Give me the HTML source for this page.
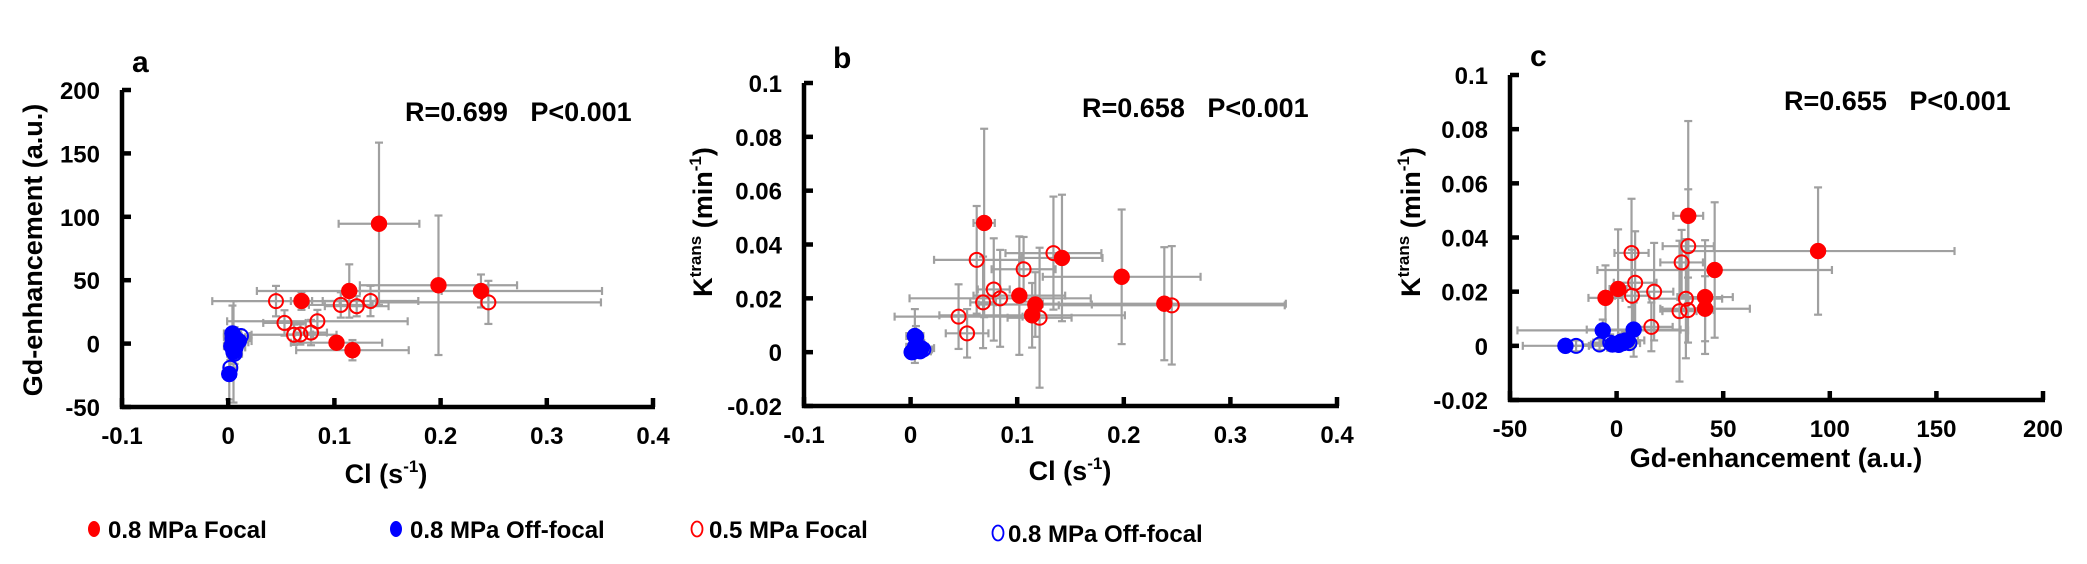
<!DOCTYPE html>
<html><head><meta charset="utf-8"><style>
html,body{margin:0;padding:0;background:#fff;}
svg{display:block;font-family:"Liberation Sans",Arial,sans-serif;font-weight:bold;}
</style></head><body>
<svg id="fig" width="2087" height="564" viewBox="0 0 2087 564" xmlns="http://www.w3.org/2000/svg"></svg>
<script>
// ---- data: each point has CI (s^-1), Gd-enhancement (a.u.), Ktrans (min^-1) with errors ----
const redFilledCI   = [0.142, 0.198, 0.238, 0.114, 0.069, 0.102, 0.117];
const redFilledCIe  = [0.038, 0.074, 0.114, 0.087, 0.010, 0.043, 0.053];
const redFilledGd   = [94.5, 46, 41.5, 41.5, 33.6, 0.7, -5.2];
const redFilledGde  = [64, 55, 13, 21, 7, 4, 8];
const redFilledK    = [0.035, 0.028, 0.018, 0.0137, 0.048, 0.021, 0.0177];
const redFilledKe   = [0.0235, 0.025, 0.021, 0.012, 0.035, 0.022, 0.012];

const redOpenCI  = [0.062, 0.106, 0.078, 0.084, 0.068, 0.045, 0.053, 0.134, 0.245, 0.121];
const redOpenCIe = [0.040, 0.030, 0.015, 0.085, 0.012, 0.060, 0.020, 0.045, 0.106, 0.030];
const redOpenGd  = [7, 30.5, 8.7, 17.6, 7.2, 33.5, 16.3, 33.6, 32.5, 29.5];
const redOpenGde = [8, 10, 10, 9, 8, 12, 10, 12, 17, 8];
const redOpenK   = [0.0343, 0.0308, 0.0233, 0.020, 0.0185, 0.0132, 0.007, 0.0368, 0.0174, 0.0128];
const redOpenKe  = [0.020, 0.012, 0.019, 0.018, 0.017, 0.012, 0.009, 0.021, 0.022, 0.026];

const blueFilledCI  = [0.001, 0.004, 0.006, 0.008, 0.003, 0.010, 0.005];
const blueFilledCIe = [0.006, 0.008, 0.010, 0.008, 0.007, 0.012, 0.006];
const blueFilledGd  = [-24, 8, 5, 3, -2, 2, -6.5];
const blueFilledGde = [20, 22, 8, 6, 10, 6, 40];
const blueFilledK   = [0, 0.006, 0.002, 0.001, 0.0005, 0.0015, 0.0057];
const blueFilledKe  = [0.002, 0.010, 0.003, 0.002, 0.002, 0.003, 0.004];

const blueOpenCI  = [0.002, 0.005, 0.007, 0.009, 0.004, 0.012, 0.006];
const blueOpenCIe = [0.006, 0.008, 0.009, 0.010, 0.006, 0.008, 0.007];
const blueOpenGd  = [-19, 0, -3, 1, 4, 6, -8];
const blueOpenGde = [6, 8, 8, 6, 6, 5, 8];
const blueOpenK   = [0, 0.0008, 0.0012, 0.0003, 0.002, 0.001, 0.0005];
const blueOpenKe  = [0.002, 0.002, 0.003, 0.002, 0.003, 0.002, 0.002];

const ticksA_x = ["-0.1","0","0.1","0.2","0.3","0.4"];
const ticksA_y = ["-50","0","50","100","150","200"];
const ticksB_x = ["-0.1","0","0.1","0.2","0.3","0.4"];
const ticksK_y = ["-0.02","0","0.02","0.04","0.06","0.08","0.1"];
const ticksC_x = ["-50","0","50","100","150","200"];

const svg = document.getElementById('fig');
const NS = 'http://www.w3.org/2000/svg';
function mk(tag, attrs, parent){
  const e = document.createElementNS(NS, tag);
  for (const k in attrs) e.setAttribute(k, attrs[k]);
  (parent||svg).appendChild(e);
  return e;
}
function scale(d0,d1,p0,p1){ return v => p0 + (v-d0)/(d1-d0)*(p1-p0); }

const groups = [
  {name:'red-filled', fill:'#ff0000', stroke:'#ff0000', ci:redFilledCI, cie:redFilledCIe, gd:redFilledGd, gde:redFilledGde, k:redFilledK, ke:redFilledKe},
  {name:'red-open', fill:'#ffffff', stroke:'#ff0000', ci:redOpenCI, cie:redOpenCIe, gd:redOpenGd, gde:redOpenGde, k:redOpenK, ke:redOpenKe},
  {name:'blue-open', fill:'#ffffff', stroke:'#0000ff', ci:blueOpenCI, cie:blueOpenCIe, gd:blueOpenGd, gde:blueOpenGde, k:blueOpenK, ke:blueOpenKe},
  {name:'blue-filled', fill:'#0000ff', stroke:'#0000ff', ci:blueFilledCI, cie:blueFilledCIe, gd:blueFilledGd, gde:blueFilledGde, k:blueFilledK, ke:blueFilledKe}
];

function panel(p){
  const g = mk('g', {});
  
  
  const X = scale(p.xd[0], p.xd[1], p.xp[0], p.xp[1]);
  const Y = scale(p.yd[0], p.yd[1], p.yp[0], p.yp[1]);
  // error bars
  const eg = mk('g', {stroke:'#a0a0a0','stroke-width':2.2, fill:'none'}, g);
  
  
  groups.forEach(gr => {
    const xs = gr[p.xk], xe = gr[p.xk+'e'], ys = gr[p.yk], ye = gr[p.yk+'e'];
    for (let i=0;i<xs.length;i++){
      const cx=X(xs[i]), cy=Y(ys[i]);
      const xl=X(xs[i]-xe[i]), xr=X(xs[i]+xe[i]), yt=Y(ys[i]+ye[i]), yb=Y(ys[i]-ye[i]);
      mk('line',{x1:xl,y1:cy,x2:xr,y2:cy},eg);
      mk('line',{x1:xl,y1:cy-4,x2:xl,y2:cy+4},eg);
      mk('line',{x1:xr,y1:cy-4,x2:xr,y2:cy+4},eg);
      mk('line',{x1:cx,y1:yt,x2:cx,y2:yb},eg);
      mk('line',{x1:cx-4,y1:yt,x2:cx+4,y2:yt},eg);
      mk('line',{x1:cx-4,y1:yb,x2:cx+4,y2:yb},eg);
    }
  });
  // markers
  groups.forEach(gr => {
    const xs = gr[p.xk], ys = gr[p.yk];
    for (let i=0;i<xs.length;i++){
      const c = mk('circle',{cx:X(xs[i]),cy:Y(ys[i]),r:gr.fill==='#ffffff'?7:8,fill:gr.fill==='#ffffff'?'none':gr.fill,stroke:gr.stroke,'stroke-width':gr.fill==='#ffffff'?2:0.5},g);
      
      
    }
  });
  // axes
  const ax = mk('g',{stroke:'#000','stroke-width':4.5,fill:'none'},g);
  
  
  mk('line',{x1:p.xp[0],y1:p.yp[0]+2,x2:p.xp[0],y2:p.yp[1]},ax);
  mk('line',{x1:p.xp[0]-2,y1:p.yp[0],x2:p.xp[1]+2,y2:p.yp[0]},ax);
  p.xticks.forEach((lab,i)=>{
    const x = X(parseFloat(lab));
    mk('line',{x1:x,y1:p.yp[0],x2:x,y2:p.yp[0]-9},ax);
    const t = mk('text',{x:x,y:p.yp[0]+37,'text-anchor':'middle','font-size':24},g);
    t.textContent = lab;
    
    
  });
  p.yticks.forEach((lab,i)=>{
    const y = Y(parseFloat(lab));
    mk('line',{x1:p.xp[0],y1:y,x2:p.xp[0]+9,y2:y},ax);
    const t = mk('text',{x:p.xp[0]-22,y:y+9,'text-anchor':'end','font-size':24},g);
    t.textContent = lab;
    
    
  });
  return g;
}

panel({id:'a', xk:'ci', yk:'gd', xd:[-0.1,0.4], xp:[122,653], yd:[-50,200], yp:[407,90], xticks:ticksA_x, yticks:ticksA_y});
panel({id:'b', xk:'ci', yk:'k', xd:[-0.1,0.4], xp:[804,1337], yd:[-0.02,0.1], yp:[406,83], xticks:ticksB_x, yticks:ticksK_y});
panel({id:'c', xk:'gd', yk:'k', xd:[-50,200], xp:[1510,2043], yd:[-0.02,0.1], yp:[400,75], xticks:ticksC_x, yticks:ticksK_y});
</script>
<svg style="position:absolute;left:0;top:0" width="2087" height="564">
  <g font-family="Liberation Sans, Arial, sans-serif" font-weight="bold" fill="#000">
    <text x="132" y="72" font-size="30">a</text>
    <text x="833" y="68" font-size="30">b</text>
    <text x="1530" y="66" font-size="30">c</text>
    <text x="405" y="121" font-size="27" xml:space="preserve">R=0.699   P&lt;0.001</text>
    <text x="1082" y="117" font-size="27" xml:space="preserve">R=0.658   P&lt;0.001</text>
    <text x="1784" y="110" font-size="27" xml:space="preserve">R=0.655   P&lt;0.001</text>
    <text transform="translate(42,250) rotate(-90)" text-anchor="middle" font-size="27">Gd-enhancement (a.u.)</text>
    <text transform="translate(712,222) rotate(-90)" text-anchor="middle" font-size="27">K<tspan font-size="17" dy="-11">trans</tspan><tspan dy="11"> (min</tspan><tspan font-size="17" dy="-11">-1</tspan><tspan dy="11">)</tspan></text>
    <text transform="translate(1420,222) rotate(-90)" text-anchor="middle" font-size="27">K<tspan font-size="17" dy="-11">trans</tspan><tspan dy="11"> (min</tspan><tspan font-size="17" dy="-11">-1</tspan><tspan dy="11">)</tspan></text>
    <text x="386" y="483" text-anchor="middle" font-size="27">Cl (s<tspan font-size="17" dy="-11">-1</tspan><tspan dy="11">)</tspan></text>
    <text x="1070" y="480" text-anchor="middle" font-size="27">Cl (s<tspan font-size="17" dy="-11">-1</tspan><tspan dy="11">)</tspan></text>
    <text x="1776" y="467" text-anchor="middle" font-size="27">Gd-enhancement (a.u.)</text>
    <g font-size="24">
      <ellipse cx="94" cy="529" rx="6" ry="8" fill="#ff0000"/>
      <text x="108" y="538">0.8 MPa Focal</text>
      <ellipse cx="396" cy="529" rx="6" ry="8" fill="#0000ff"/>
      <text x="410" y="538">0.8 MPa Off-focal</text>
      <ellipse cx="697" cy="529" rx="5.5" ry="7.5" fill="none" stroke="#ff0000" stroke-width="1.8"/>
      <text x="709" y="538">0.5 MPa Focal</text>
      <ellipse cx="998" cy="533" rx="5.5" ry="7.5" fill="none" stroke="#0000ff" stroke-width="1.8"/>
      <text x="1008" y="542">0.8 MPa Off-focal</text>
    </g>
  </g>
</svg>
</body></html>
